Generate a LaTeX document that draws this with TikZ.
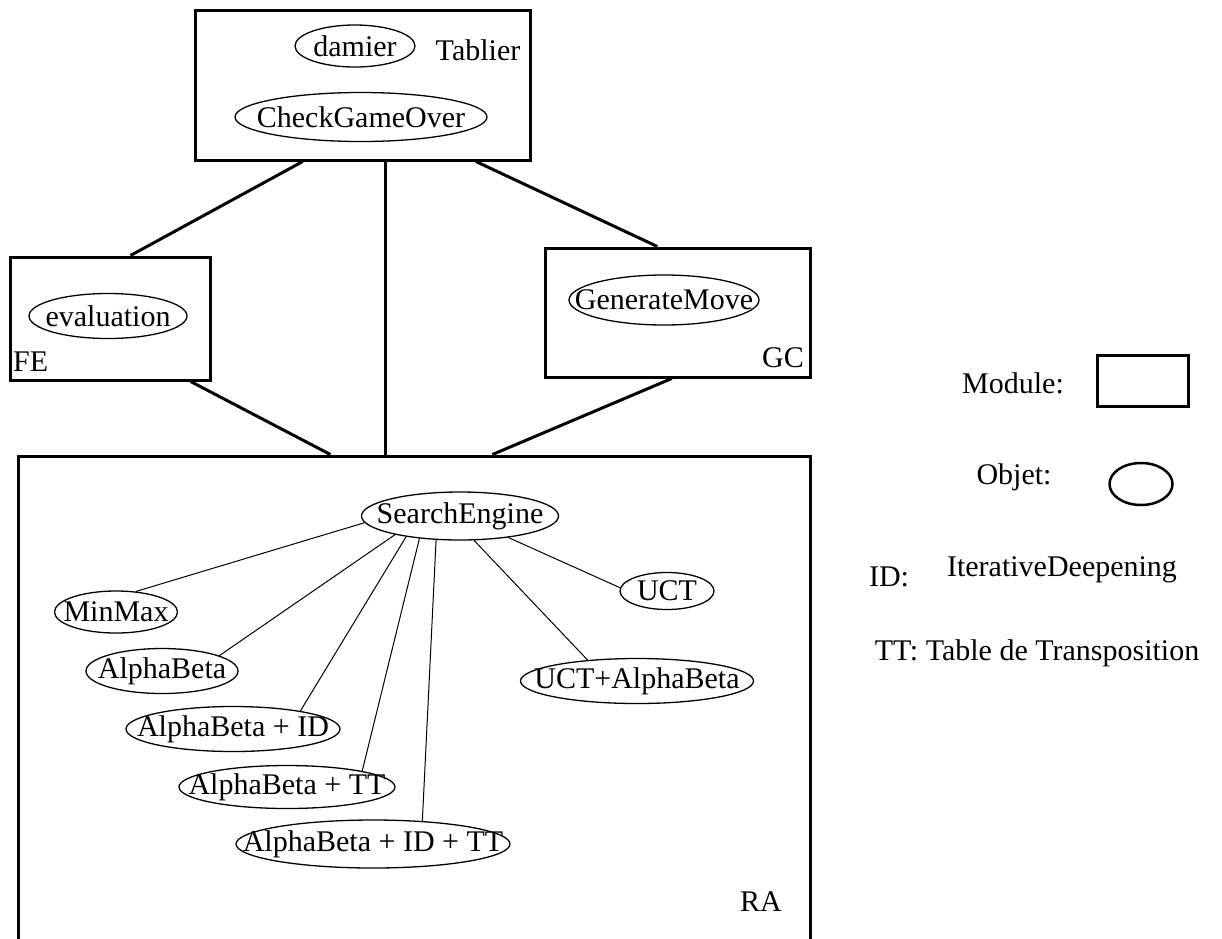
\documentclass[tikz,border=0pt]{standalone}
\usepackage{fontspec}
\setmainfont{Liberation Serif}
\usetikzlibrary{shapes.geometric, positioning}

% text of an object, kept out of the ellipse size
\newcommand{\objtext}[1]{\makebox[0pt]{#1}}

\begin{document}
\begin{tikzpicture}[
    x=1pt, y=-1pt,
    every node/.style={font=\fontsize{30}{34}\selectfont},
    module/.style={rectangle, draw, line width=3pt, inner sep=0pt},
    objet/.style={ellipse, draw, line width=1.3pt, inner sep=0pt},
    tag/.style={inner sep=0pt},
    bigline/.style={line width=3pt},
    thinline/.style={line width=1pt}
]
    \useasboundingbox (0,0) rectangle (1222,938);
    \clip (0,0) rectangle (1222,938);

    % Modules
    \node[module, minimum width=335pt, minimum height=150pt] (tablier) at (362.5,85) {};
    \node[module, minimum width=200pt, minimum height=123pt] (fe) at (110,318.5) {};
    \node[module, minimum width=265pt, minimum height=129pt] (gc) at (677.5,312.5) {};
    \node[module, minimum width=792pt, minimum height=544pt] (ra) at (414,728) {};

    % Module names
    \node[tag] (tabliername) at (478,50) {Tablier};
    \node[tag, anchor=west] (fename) at (13,362) {FE};
    \node[tag] (gcname) at (783,358) {GC};
    \node[tag] (raname) at (761,902) {RA};

    % Objects
    \node[objet, minimum width=120pt, minimum height=42pt] (damier) at (355,46) {\objtext{damier}};
    \node[objet, minimum width=252pt, minimum height=49pt] (checkgo) at (361,117) {\objtext{CheckGameOver}};
    \node[objet, minimum width=158pt, minimum height=45pt] (evaluation) at (108,316) {\objtext{evaluation}};
    \node[objet, minimum width=190pt, minimum height=50pt] (genmove) at (664,300) {\objtext{GenerateMove}};

    \node[objet, minimum width=197pt, minimum height=48pt] (search) at (460,516) {\objtext{SearchEngine}};
    \node[objet, minimum width=123pt, minimum height=42pt] (minmax) at (116,612) {\objtext{MinMax}};
    \node[objet, minimum width=152pt, minimum height=45pt] (alphabeta) at (162,671) {\objtext{AlphaBeta}};
    \node[objet, minimum width=214pt, minimum height=45pt] (abid) at (233,729) {\objtext{AlphaBeta + ID}};
    \node[objet, minimum width=216pt, minimum height=43pt] (abtt) at (287,787) {\objtext{AlphaBeta + TT}};
    \node[objet, minimum width=274pt, minimum height=48pt] (abidtt) at (373,844) {\objtext{AlphaBeta + ID + TT}};
    \node[objet, minimum width=94pt, minimum height=37pt] (uct) at (667,591) {\objtext{UCT}};
    \node[objet, minimum width=233pt, minimum height=45pt] (uctab) at (637,681) {\objtext{UCT+AlphaBeta}};

    % Links between modules
    \draw[bigline] (tablier.232) -- (fe.72);
    \draw[bigline] (tablier.287) -- (tablier.287 |- ra.north);
    \draw[bigline] (tablier.326) -- (gc.107);
    \draw[bigline] (fe.322) -- (ra.107);
    \draw[bigline] (gc.265) -- (ra.74);

    % Links inside RA
    \draw[thinline] (search.184) -- (minmax.46);
    \draw[thinline] (search.196) -- (alphabeta.15);
    \draw[thinline] (search.201) -- (abid.15);
    \draw[thinline] (search.209) -- (abtt.12);
    \draw[thinline] (search.225) -- (abidtt.25);
    \draw[thinline] (search.300) -- (uctab.157);
    \draw[thinline] (search.336) -- (uct.176);

    % Legend
    \node[tag] (modulename) at (1013,383) {Module:};
    \node[module, minimum width=91pt, minimum height=51pt] (modulebox) at (1142.5,380.5) {};
    \node[tag] (objetname) at (1014,477) {Objet:};
    \node[objet, line width=2.5pt, minimum width=63pt, minimum height=42pt] (objetshape) at (1141,484) {};
    \node[tag] (idname) at (889,577) {ID:};
    \node[tag] (idtext) at (1062,570) {IterativeDeepening};
    \node[tag] (ttname) at (1037,653) {TT: Table de Transposition};

\end{tikzpicture}
\end{document}
